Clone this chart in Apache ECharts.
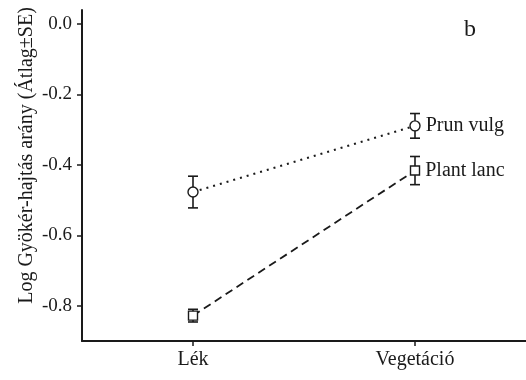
<!DOCTYPE html>
<html>
<head>
<meta charset="utf-8">
<script src="https://cdn.jsdelivr.net/npm/echarts@6/dist/echarts.min.js"></script>
<style>
  html, body { margin: 0; padding: 0; background: #fff; }
  #chart { width: 526px; height: 380px; }
</style>
</head>
<body>
<div id="chart"></div>
<script>
// Root:shoot ratio (log) by habitat, mean ± SE for two species
var categories = ['Lék', 'Vegetáció'];
var prunMean = [-0.477, -0.289];
var prunSE = [0.045, 0.035];
var plantMean = [-0.828, -0.416];
var plantSE = [0.018, 0.040];
var yTicks = [0.0, -0.2, -0.4, -0.6, -0.8];
var seriesNames = ['Prun vulg', 'Plant lanc'];

var FONT = '"Liberation Serif", "Times New Roman", serif';
var INK = '#1a1a1a';

function errorData(means, ses) {
  return means.map(function (m, i) { return [i, m - ses[i], m + ses[i]]; });
}

function errorSeries(means, ses) {
  return {
    type: 'custom',
    z: 1,
    data: errorData(means, ses),
    renderItem: function (params, api) {
      var x = api.value(0);
      var lo = api.coord([x, api.value(1)]);
      var hi = api.coord([x, api.value(2)]);
      var w = 5;
      var style = { stroke: INK, lineWidth: 1.6 };
      return {
        type: 'group',
        children: [
          { type: 'line', shape: { x1: lo[0], y1: lo[1], x2: hi[0], y2: hi[1] }, style: style },
          { type: 'line', shape: { x1: lo[0] - w, y1: lo[1], x2: lo[0] + w, y2: lo[1] }, style: style },
          { type: 'line', shape: { x1: hi[0] - w, y1: hi[1], x2: hi[0] + w, y2: hi[1] }, style: style }
        ]
      };
    }
  };
}

function meanSeries(name, means, symbol, size, dash, width) {
  return {
    name: name,
    type: 'line',
    z: 3,
    data: means,
    symbol: symbol,
    symbolSize: size,
    showAllSymbol: true,
    itemStyle: { color: '#fff', borderColor: INK, borderWidth: 1.4 },
    lineStyle: { color: INK, width: width, type: dash },
    label: {
      show: true,
      position: 'right',
      distance: 5,
      fontFamily: FONT,
      fontSize: 20,
      color: INK,
      formatter: function (p) { return p.dataIndex === means.length - 1 ? name : ''; }
    },
    emphasis: { disabled: true },
    animation: false
  };
}

var chart = echarts.init(document.getElementById('chart'));
chart.setOption({
  animation: false,
  backgroundColor: '#fff',
  grid: { left: 82, right: 0, top: 10, bottom: 39 },
  title: {
    text: 'b',
    left: 459,
    top: 13,
    textStyle: { fontFamily: FONT, fontSize: 24, fontWeight: 'normal', color: INK }
  },
  xAxis: {
    type: 'category',
    data: categories,
    boundaryGap: true,
    axisLine: { onZero: false, lineStyle: { color: INK, width: 2 } },
    axisTick: { show: true, alignWithLabel: true, length: 5, lineStyle: { color: INK, width: 1.5 } },
    axisLabel: { fontFamily: FONT, fontSize: 20, color: INK, margin: 9 }
  },
  yAxis: {
    type: 'value',
    min: -0.9,
    max: 0.04,
    name: 'Log Gyökér-hajtás arány (Átlag±SE)',
    nameLocation: 'middle',
    nameGap: 45,
    nameMoveOverlap: false,
    nameTextStyle: { fontFamily: FONT, fontSize: 20, color: INK, padding: [0, 0, 0, 40] },
    axisLine: { show: true, onZero: false, lineStyle: { color: INK, width: 2 } },
    axisTick: { show: true, length: 5, customValues: yTicks, lineStyle: { color: INK, width: 1.5 } },
    axisLabel: {
      customValues: yTicks,
      fontFamily: FONT,
      fontSize: 19,
      color: INK,
      margin: 10,
      formatter: function (v) { return v.toFixed(1); }
    },
    splitLine: { show: false }
  },
  series: [
    errorSeries(prunMean, prunSE),
    errorSeries(plantMean, plantSE),
    meanSeries(seriesNames[0], prunMean, 'circle', 10, [2, 5], 2),
    meanSeries(seriesNames[1], plantMean, 'rect', 9, [8, 5], 1.8)
  ]
});
</script>
</body>
</html>
